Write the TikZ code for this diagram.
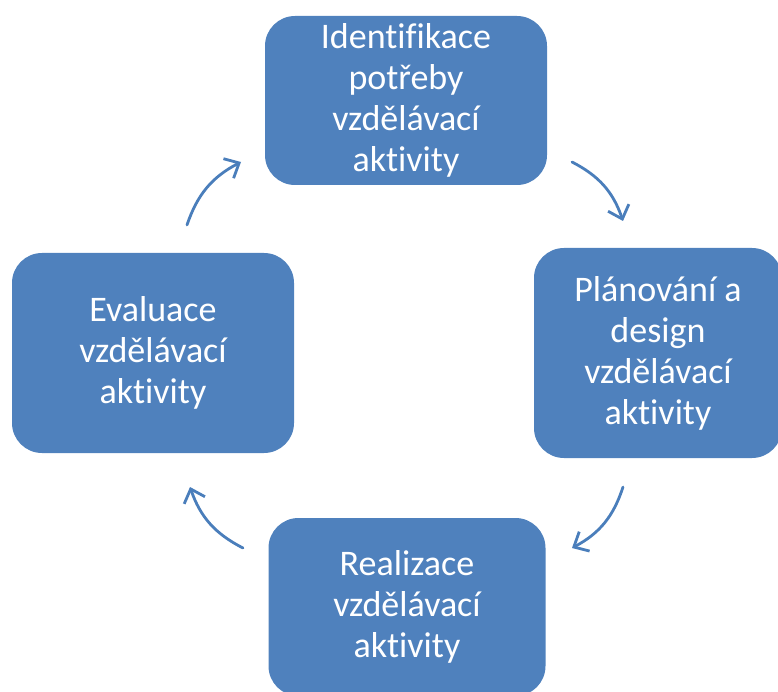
\documentclass[tikz,border=0pt]{standalone}
\usepackage{fontspec}
\setmainfont[RawFeature={-liga;-clig;-dlig}]{Carlito}
\usetikzlibrary{arrows.meta}
\definecolor{boxblue}{RGB}{79,129,189}
\definecolor{arrblue}{RGB}{74,126,187}
\tikzset{
  cyclebox/.style={fill=boxblue, draw=none, rounded corners=30pt, text=white,
    align=center, inner sep=0pt,
    font=\fontsize{36pt}{41pt}\selectfont},
  cyclearrow/.style={draw=arrblue, line width=2.8pt, line cap=round,
    -{Straight Barb[length=12pt, width=22pt, line width=2.8pt]}, bend left=22}
}
\begin{document}
\begin{tikzpicture}[x=1pt, y=-1pt]
\useasboundingbox (0,0) rectangle (778,692);
\node[cyclebox, minimum width=282pt, minimum height=169pt] (ident) at (406,100.5)
  {Identifikace\\potřeby\\vzdělávací\\aktivity};
\node[cyclebox, minimum width=248pt, minimum height=210pt] (plan) at (658,353)
  {Plánování a\\design\\vzdělávací\\aktivity};
\node[cyclebox, minimum width=277pt, minimum height=178pt] (real) at (407,607)
  {Realizace\\vzdělávací\\aktivity};
\node[cyclebox, minimum width=282pt, minimum height=200pt] (eval) at (153,353)
  {Evaluace\\vzdělávací\\aktivity};
\coordinate (a1s) at (572,162);
\coordinate (a1e) at (623,221);
\coordinate (a2s) at (623,487);
\coordinate (a2e) at (572,548);
\coordinate (a3s) at (243,548);
\coordinate (a3e) at (190,487);
\coordinate (a4s) at (187,225);
\coordinate (a4e) at (241,162);
\draw[cyclearrow] (a1s) to (a1e);
\draw[cyclearrow] (a2s) to (a2e);
\draw[cyclearrow] (a3s) to (a3e);
\draw[cyclearrow] (a4s) to (a4e);
\end{tikzpicture}
\end{document}
